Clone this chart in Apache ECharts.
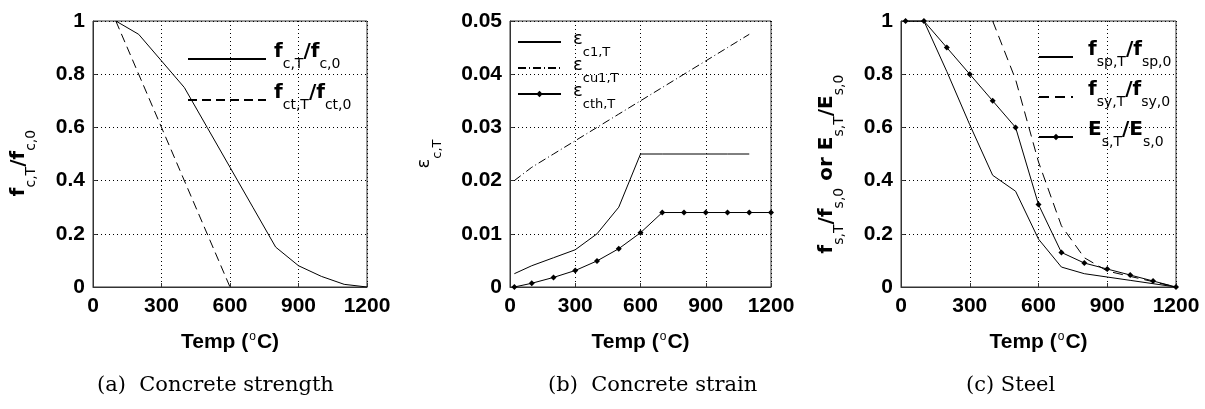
<!DOCTYPE html>
<html><head><meta charset="utf-8">
<script src="https://cdn.jsdelivr.net/npm/echarts@6/dist/echarts.min.js"></script>
<style>html,body{margin:0;padding:0;background:#fff}#c{width:1205px;height:409px}</style>
</head><body><div id="c"></div>
<script>
// ---- data ----
const tempFc = [100,200,300,400,500,600,700,800,900,1000,1100,1200];
const fcRatio = [1,0.95,0.85,0.75,0.60,0.45,0.30,0.15,0.08,0.04,0.01,0];
const tempFct = [100,600];
const fctRatio = [1,0];

const tempEc = [20,100,200,300,400,500,600,700,800,900,1000,1100];
const ec1 = [0.0025,0.004,0.0055,0.007,0.01,0.015,0.025,0.025,0.025,0.025,0.025,0.025];
const ecu1 = [0.02,0.0225,0.025,0.0275,0.03,0.0325,0.035,0.0375,0.04,0.0425,0.045,0.0475];
const tempEth = [20,100,200,300,400,500,600,700,800,900,1000,1100,1200];
const ecth = [0,0.0007,0.0018,0.0031,0.0049,0.0072,0.0102,0.014,0.014,0.014,0.014,0.014,0.014];

const tempSteel = [20,100,200,300,400,500,600,700,800,900,1000,1100,1200];
const fspRatio = [1,1,0.81,0.61,0.42,0.36,0.18,0.075,0.05,0.0375,0.025,0.0125,0];
const EsRatio = [1,1,0.9,0.8,0.7,0.6,0.31,0.13,0.09,0.0675,0.045,0.0225,0];
const tempFsy = [400,500,600,700,800,900,1000,1100,1200];
const fsyRatio = [1,0.78,0.47,0.23,0.11,0.06,0.04,0.02,0];

const xTickMax = 1200, xTickStep = 300;
const captions = ['(a)  Concrete strength', '(b)  Concrete strain', '(c) Steel'];

// ---- helpers ----
const pair = (xs, ys) => xs.map((x, i) => [x, ys[i]]);
const SANS = 'DejaVu Sans, Verdana, sans-serif';
const ARIAL = 'Liberation Sans, Arial, sans-serif';
const SERIF = 'DejaVu Serif, serif';
const richMain = {
  m: {fontFamily: SANS, fontSize: 20, fontWeight: 'bold', color: '#000', lineHeight: 20, padding: [0,0,14,0], verticalAlign: 'bottom'},
  s: {fontFamily: SANS, fontSize: 14, fontWeight: 'normal', color: '#000', lineHeight: 14, padding: [0,0,5,0], verticalAlign: 'bottom'},
  e: {fontFamily: SANS, fontSize: 18, fontWeight: 'normal', color: '#000', lineHeight: 18, padding: [4,0,11,0], verticalAlign: 'bottom'},
  es: {fontFamily: SANS, fontSize: 13, fontWeight: 'normal', color: '#000', lineHeight: 13, padding: [0,0,0,0], verticalAlign: 'bottom'}
};
const legendLabels = {
  fc: '{m|f}{s|c,T}{m|/f}{s|c,0}',
  fct: '{m|f}{s|ct,T}{m|/f}{s|ct,0}',
  ec1: '{e|ε}{es|c1,T}',
  ecu1: '{e|ε}{es|cu1,T}',
  ecth: '{e|ε}{es|cth,T}',
  fsp: '{m|f}{s|sp,T}{m|/f}{s|sp,0}',
  fsy: '{m|f}{s|sy,T}{m|/f}{s|sy,0}',
  Es: '{m|E}{s|s,T}{m|/E}{s|s,0}'
};
const axisColor = '#333';
const tickFont = {fontFamily: ARIAL, fontSize: 21, fontWeight: 'bold', color: '#000'};
function xAxis(gi) {
  return {
    type: 'value', gridIndex: gi, min: 0, max: xTickMax, interval: xTickStep,
    name: '{t|Temp (}{o|o}{t|C)}', nameLocation: 'middle', nameGap: 44,
    nameTextStyle: {rich: {
      t: {fontFamily: ARIAL, fontSize: 21, fontWeight: 'bold', color: '#000', lineHeight: 22, verticalAlign: 'bottom'},
      o: {fontFamily: ARIAL, fontSize: 12, fontWeight: 'normal', color: '#000', lineHeight: 12, verticalAlign: 'top', padding: [0,1,0,1]}
    }},
    axisLine: {show: true, onZero: false, lineStyle: {color: axisColor, width: 1}},
    axisTick: {show: true, inside: true, length: 4, lineStyle: {color: axisColor}},
    axisLabel: Object.assign({margin: 9, formatter: v => String(v)}, tickFont),
    splitLine: {show: true, lineStyle: {type: [1,3], color: '#000', width: 1}}
  };
}
function yAxis(gi, max, interval, name, gap, shift) {
  return {
    type: 'value', gridIndex: gi, min: 0, max: max, interval: interval,
    name: name, nameLocation: 'middle', nameGap: gap,
    nameTextStyle: {rich: richMain, padding: [0, shift, 0, 0]},
    axisLine: {show: true, onZero: false, lineStyle: {color: axisColor, width: 1}},
    axisTick: {show: true, inside: true, length: 4, lineStyle: {color: axisColor}},
    axisLabel: Object.assign({margin: 8}, tickFont),
    splitLine: {show: true, lineStyle: {type: [1,3], color: '#000', width: 1}}
  };
}
function line(name, gi, data, type, symbol) {
  return {
    name: name, type: 'line', xAxisIndex: gi, yAxisIndex: gi, data: data,
    symbol: symbol || 'none', symbolSize: 6, showSymbol: !!symbol,
    itemStyle: {color: '#000'},
    lineStyle: {color: '#000', width: 1, type: type || 'solid'},
    animation: false, silent: true
  };
}
const marked = {ecth: true, Es: true};
function legend(names, left, top, itemWidth, gap, padTop, padLeft) {
  return {
    data: names.map(n => marked[n] ? {name: n} : {name: n, itemStyle: {opacity: 0}}),
    orient: 'vertical', left: left, top: top, itemWidth: itemWidth, itemHeight: 8,
    itemGap: gap, selectedMode: false, padding: 0,
    formatter: n => legendLabels[n],
    textStyle: {rich: richMain, padding: [padTop,0,0,padLeft]}
  };
}

const chart = echarts.init(document.getElementById('c'), null, {renderer: 'canvas'});
chart.setOption({
  backgroundColor: '#fff',
  animation: false,
  title: captions.map((t, i) => ({
    text: t, left: [97, 548, 966][i], top: 375, padding: 0,
    textStyle: {fontFamily: SERIF, fontSize: 21, fontWeight: 'normal', color: '#000'}
  })),
  grid: [
    {left: 93, top: 21, width: 274, height: 266, show: true, borderColor: axisColor, borderWidth: 1, containLabel: false},
    {left: 510, top: 21, width: 261, height: 266, show: true, borderColor: axisColor, borderWidth: 1, containLabel: false},
    {left: 901, top: 21, width: 275, height: 266, show: true, borderColor: axisColor, borderWidth: 1, containLabel: false}
  ],
  xAxis: [xAxis(0), xAxis(1), xAxis(2)],
  yAxis: [
    yAxis(0, 1, 0.2, '{m|f}{s|c,T}{m|/f}{s|c,0}', 50, 18),
    yAxis(1, 0.05, 0.01, '{e|ε}{es|c,T}', 66, 0),
    yAxis(2, 1, 0.2, '{m|f}{s|s,T}{m|/f}{s|s,0}{m| or E}{s|s,T}{m|/E}{s|s,0}', 50, 20)
  ],
  legend: [
    legend(['fc','fct'], 187, 42, 78, 7, 14, 3),
    legend(['ec1','ecu1','ecth'], 517, 26, 43, -7, 16, 7),
    legend(['fsp','fsy','Es'], 1038, 40, 34, 6, 14, 10)
  ],
  series: [
    line('fc', 0, pair(tempFc, fcRatio), 'solid'),
    line('fct', 0, pair(tempFct, fctRatio), [9,5]),
    line('ec1', 1, pair(tempEc, ec1), 'solid'),
    line('ecu1', 1, pair(tempEc, ecu1), [8,3,1,3]),
    line('ecth', 1, pair(tempEth, ecth), 'solid', 'diamond'),
    line('fsp', 2, pair(tempSteel, fspRatio), 'solid'),
    line('fsy', 2, pair(tempFsy, fsyRatio), [10,6]),
    line('Es', 2, pair(tempSteel, EsRatio), 'solid', 'diamond')
  ]
});
</script>
</body></html>
